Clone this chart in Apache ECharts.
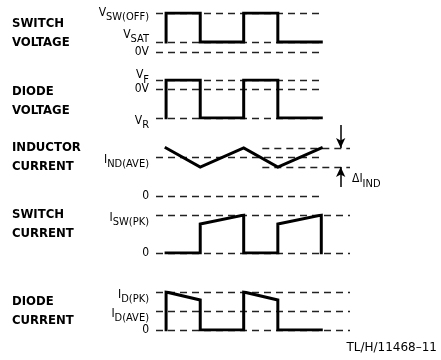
<!DOCTYPE html>
<html>
<head>
<meta charset="utf-8">
<script src="https://cdn.jsdelivr.net/npm/echarts@6/dist/echarts.min.js"></script>
<style>
  html, body { margin: 0; padding: 0; background: #fff; }
  #chart { width: 441px; height: 360px; }
</style>
</head>
<body>
<div id="chart"></div>
<script>
// time in switching periods, t = 0 is the first edge
const timeRange = [-0.13, 2.37];

// waveforms, [t, level]
const switchVoltage = [[0, 1], [0, 3.9], [0.44, 3.9], [0.44, 1], [1, 1], [1, 3.9], [1.44, 3.9], [1.44, 1], [2, 1]];
const diodeVoltage = [[0, -3.2], [0, 1], [0.44, 1], [0.44, -3.2], [1, -3.2], [1, 1], [1.44, 1], [1.44, -3.2], [2, -3.2]];
const inductorCurrent = [[0, 4.8], [0.44, 2.9], [1, 4.8], [1.44, 2.9], [2, 4.8]];
const switchCurrent = [[0, 0], [0.44, 0], [0.44, 2.9], [1, 3.8], [1, 0], [1.44, 0], [1.44, 2.9], [2, 3.8], [2, 0]];
const diodeCurrent = [[0, 0], [0, 3.8], [0.44, 3.0], [0.44, 0], [1, 0], [1, 3.8], [1.44, 3.0], [1.44, 0], [2, 0]];

// reference levels and their tick labels
const switchVoltageLevels = [3.9, 1, 0];
const switchVoltageLabels = ['{m2|V}{s2|SW(OFF)}', '{mu|V}{su|SAT}', '{p|0V}'];
const diodeVoltageLevels = [1, 0, -3.2];
const diodeVoltageLabels = ['{mf|V}{sf|F}', '{p|0V}', '{m|V}{s|R}'];
const inductorLevels = [3.9, 0];
const inductorLabels = ['{m|I}{s|ND(AVE)}', '{p|0}'];
const rippleLevels = [4.8, 2.9];
const switchCurrentLevels = [3.8, 0];
const switchCurrentLabels = ['{m|I}{s|SW(PK)}', '{p|0}'];
const diodeCurrentLevels = [3.8, 1.9, 0];
const diodeCurrentLabels = ['{m|I}{s|D(PK)}', '{m|I}{s|D(AVE)}', '{p|0}'];

// ripple arrows: [from, to]
const rippleArrowX = 2.25;
const rippleArrows = [[7.1, 4.8], [0.9, 2.9]];

const panelTitles = ['SWITCH\nVOLTAGE', 'DIODE\nVOLTAGE', 'INDUCTOR\nCURRENT', 'SWITCH\nCURRENT', 'DIODE\nCURRENT'];

const fontMain = "'DejaVu Sans Condensed', 'DejaVu Sans', sans-serif";

function tok(size, pad) {
    return { fontSize: size, fontFamily: fontMain, color: '#000', padding: pad };
}
const labelRich = {
    m: tok(12, [10, 0, 5, 0]),
    s: tok(11, [15, 0, 0, 0]),
    m2: tok(12, [4, 0, 5, 0]),
    s2: tok(11, [9, 0, 0, 0]),
    mc: tok(12, [0, 0, 5, 0]),
    sc: tok(11, [5, 0, 0, 0]),
    mf: tok(12, [0, 0, 10, 0]),
    sf: tok(11, [5, 0, 5, 0]),
    mu: tok(12, [0, 0, 15, 0]),
    su: tok(11, [5, 0, 10, 0]),
    p: tok(12, [0, 0, 0, 0])
};

const panels = [
    { top: 13, height: 39, min: 0, max: 3.9, wave: switchVoltage, levels: switchVoltageLevels, labels: switchVoltageLabels, ends: [2, 2, 2] },
    { top: 80, height: 38, min: -3.2, max: 1, wave: diodeVoltage, levels: diodeVoltageLevels, labels: diodeVoltageLabels, ends: [2, 2, 2] },
    { top: 125, height: 71, min: 0, max: 7.1, wave: inductorCurrent, levels: inductorLevels, labels: inductorLabels, ends: [2, 2] },
    { top: 215, height: 38, min: 0, max: 3.8, wave: switchCurrent, levels: switchCurrentLevels, labels: switchCurrentLabels, ends: [2.37, 2.37] },
    { top: 292, height: 38, min: 0, max: 3.8, wave: diodeCurrent, levels: diodeCurrentLevels, labels: diodeCurrentLabels, ends: [2.37, 2.37, 2.37] }
];
const titleCenters = [33, 101, 157, 224.5, 311];

const dashStyle = { color: '#222', width: 1.3, type: [7, 5] };

const myChart = echarts.init(document.getElementById('chart'), null, { renderer: 'canvas' });

function levelAxis(gridIndex, p, values) {
    return {
        gridIndex: gridIndex, type: 'value', position: 'left', offset: 0,
        min: p.min, max: p.max,
        axisLine: { show: false }, axisTick: { show: false }, splitLine: { show: false },
        axisLabel: {
            customValues: values,
            margin: 7,
            hideOverlap: false,
            formatter: function (v) { return p.labels[p.levels.indexOf(v)]; },
            rich: labelRich
        }
    };
}

const grid = [], xAxis = [], yAxis = [], series = [];
panels.forEach(function (p, i) {
    grid.push({ left: 156, width: 194, top: p.top, height: p.height });
    xAxis.push({ gridIndex: i, type: 'value', min: timeRange[0], max: timeRange[1], show: false });
    yAxis.push(levelAxis(i, p, p.levels));
    const refLines = p.levels.map(function (lv, k) {
        return [{ coord: [timeRange[0], lv] }, { coord: [p.ends[k], lv] }];
    });
    if (i === 2) {
        rippleLevels.forEach(function (lv) {
            refLines.push([{ coord: [1.24, lv] }, { coord: [timeRange[1], lv] }]);
        });
    }
    series.push({
        type: 'line', xAxisIndex: i, yAxisIndex: i,
        data: p.wave, symbol: 'none', animation: false, z: 3,
        lineStyle: { color: '#000', width: 3, join: 'miter', cap: 'square' },
        markLine: {
            silent: true, symbol: 'none', animation: false, z: 2,
            label: { show: false },
            lineStyle: dashStyle,
            data: refLines
        }
    });
});
// V_F sits right on top of 0V, so it gets its own axis (no overlap culling)
yAxis[1] = levelAxis(1, panels[1], [0, -3.2]);
yAxis.push(levelAxis(1, panels[1], [1]));

// delta I arrows
series.push({
    type: 'line', xAxisIndex: 2, yAxisIndex: 2, data: [], animation: false,
    markLine: {
        silent: true, animation: false,
        symbol: ['none', 'arrow'], symbolSize: [7, 10],
        label: { show: false },
        lineStyle: { color: '#000', width: 1.5, type: 'solid' },
        data: rippleArrows.map(function (a) {
            return [{ coord: [rippleArrowX, a[0]] }, { coord: [rippleArrowX, a[1]] }];
        })
    }
});

const graphic = panelTitles.map(function (t, i) {
    return {
        type: 'text', left: 12, top: titleCenters[i] - 19,
        style: { text: t, font: "bold 13px " + fontMain, lineHeight: 19, fill: '#000' }
    };
});
graphic.push({
    type: 'text', left: 352, top: 173,
    style: {
        text: '{m|ΔI}{s|IND}',
        rich: { m: labelRich.mc, s: labelRich.sc }
    }
});
graphic.push({
    type: 'text', right: 4, top: 342,
    style: { text: 'TL/H/11468–11', font: "12px 'DejaVu Sans', sans-serif", fill: '#000' }
});

myChart.setOption({
    backgroundColor: '#fff',
    animation: false,
    grid: grid,
    xAxis: xAxis,
    yAxis: yAxis,
    series: series,
    graphic: graphic
});
</script>
</body>
</html>
